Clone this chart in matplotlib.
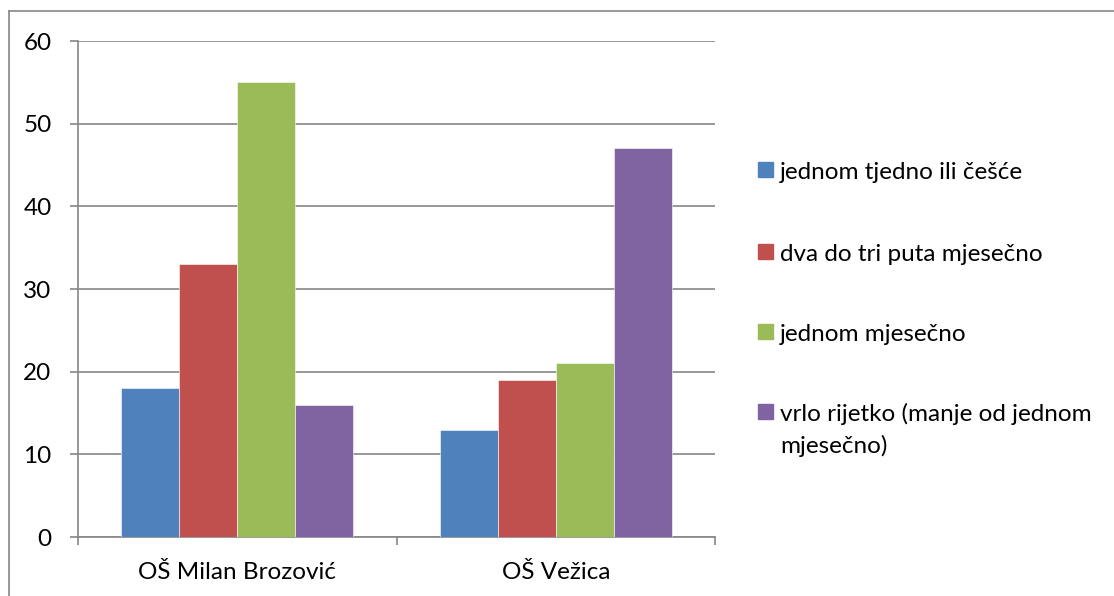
import matplotlib.pyplot as plt
from matplotlib.lines import Line2D
from matplotlib.patches import Rectangle
import numpy as np

schools = ['OŠ Milan Brozović', 'OŠ Vežica']
series_labels = ['jednom tjedno ili češće',
                 'dva do tri puta mjesečno',
                 'jednom mjesečno',
                 'vrlo rijetko (manje od jednom\nmjesečno)']
weekly = [18, 13]
two_three = [33, 19]
monthly = [55, 21]
rarely = [16, 47]
y_ticks = [0, 10, 20, 30, 40, 50, 60]

series = [weekly, two_three, monthly, rarely]
colors = ['#4F81BD', '#C0504D', '#9BBB59', '#8064A2']
grey = '#868686'
fsize = 17.5

plt.rcParams['font.family'] = ['Lato', 'DejaVu Sans']

W, H = 1114, 596
fig = plt.figure(figsize=(W / 100, H / 100), dpi=100, facecolor='white')
ax = fig.add_axes([78 / W, 1 - 537 / H, (715 - 78) / W, (537 - 41) / H])

x = np.arange(len(schools))
w = 1 / 5.5
for i, vals in enumerate(series):
    ax.bar(x + (i - 1.5) * w, vals, width=w, color=colors[i],
           edgecolor='white', linewidth=0.4, zorder=3)

ax.set_xlim(-0.5, len(schools) - 0.5)
ax.set_ylim(0, 60)
ax.set_yticks(y_ticks)
ax.tick_params(axis='y', labelsize=fsize, length=6, width=1.2, color=grey, pad=13)
ax.yaxis.grid(True, color=grey, linewidth=1.2, zorder=0)

# category boundaries as major ticks, names as minor ticks
ax.set_xticks(np.arange(-0.5, len(schools)))
ax.set_xticklabels([])
ax.set_xticks(x, minor=True)
ax.set_xticklabels(schools, minor=True)
ax.tick_params(axis='x', which='major', length=6, width=1.2, color=grey)
ax.tick_params(axis='x', which='minor', length=0, labelsize=fsize, pad=18)

for s in ['top', 'right']:
    ax.spines[s].set_visible(False)
for s in ['left', 'bottom']:
    ax.spines[s].set_color(grey)
    ax.spines[s].set_linewidth(1.2)

# legend drawn by hand, wrapped lines placed one by one
rows_y = [170, 252, 332, 412]
for lab, col, yy in zip(series_labels, colors, rows_y):
    fig.patches.append(Rectangle((758 / W, 1 - (yy + 7) / H), 15 / W, 15 / H,
                                 transform=fig.transFigure, color=col))
    for k, line in enumerate(lab.split('\n')):
        fig.text(780 / W, 1 - (yy + 9 + 32 * k) / H, line, fontsize=fsize,
                 va='baseline', ha='left')

# outer chart border
fig.add_artist(Line2D([9 / W, 1], [1 - 11 / H, 1 - 11 / H], color=grey, linewidth=1.2))
fig.add_artist(Line2D([9 / W, 9 / W], [0, 1 - 11 / H], color=grey, linewidth=1.2))

fig.savefig('out.png', dpi=100, facecolor='white')
